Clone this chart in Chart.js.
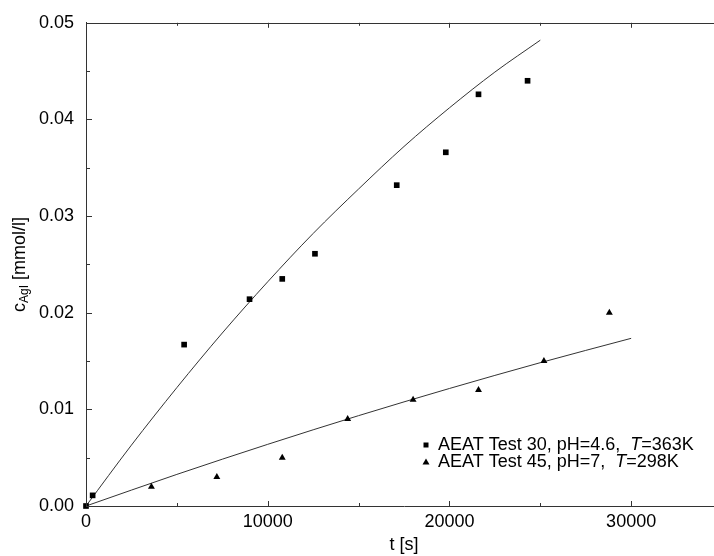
<!DOCTYPE html>
<html>
<head>
<meta charset="utf-8">
<script src="https://cdn.jsdelivr.net/npm/chart.js@4"></script>
<style>
  html, body { margin: 0; padding: 0; background: #fff; overflow: hidden; }
  #wrap { width: 714px; height: 556px; overflow: hidden; }
</style>
</head>
<body>
<div id="wrap"><canvas id="agiChart" width="730" height="556"></canvas></div>
<script>
// measured points
const tTest30 = [0, 365, 5400, 9000, 10800, 12600, 17100, 19800, 21600, 24300];
const cTest30 = [0, 0.0011, 0.0167, 0.0214, 0.0235, 0.0261, 0.0332, 0.0366, 0.0426, 0.0440];
const tTest45 = [3600, 7200, 10800, 14400, 18000, 21600, 25200, 28800];
const cTest45 = [0.002, 0.003, 0.005, 0.009, 0.011, 0.012, 0.015, 0.020];

// model curves
const tModel30 = [0, 2500, 5000, 7500, 10000, 12500, 15000, 17500, 20000, 22500, 25000];
const cModel30 = [0, 0.0063, 0.01225, 0.0179, 0.0232, 0.0282, 0.0328, 0.0372, 0.0412, 0.0449, 0.0482];
const tModel45 = [0, 5000, 10000, 15000, 20000, 25000, 30000];
const cModel45 = [0, 0.00327, 0.00638, 0.00935, 0.01216, 0.01483, 0.01735];

const xTicks = [0, 10000, 20000, 30000];
const yTicks = [0, 0.01, 0.02, 0.03, 0.04, 0.05];

const labels = ['AEAT Test 30, pH=4.6, T=363K', 'AEAT Test 45, pH=7, T=298K'];

const toXY = (xs, ys) => xs.map((x, i) => ({ x: x, y: ys[i] }));
const FONT = '"Liberation Sans", Arial, Helvetica, sans-serif';

// inward ticks, frame, y title, legend
const frameTicks = {
  id: 'frameTicks',
  afterDraw(chart) {
    const ctx = chart.ctx;
    const a = chart.chartArea;
    const xs = chart.scales.x, ys = chart.scales.y;
    ctx.save();
    ctx.strokeStyle = '#333';
    ctx.lineWidth = 1;
    ctx.beginPath();
    ctx.moveTo(a.left, Math.round(a.top) + 0.5);
    ctx.lineTo(a.right, Math.round(a.top) + 0.5);
    ctx.moveTo(Math.round(a.right) + 0.5, a.top);
    ctx.lineTo(Math.round(a.right) + 0.5, a.bottom);
    for (let v = 0; v <= 35000; v += 5000) {
      const px = Math.round(xs.getPixelForValue(v)) + 0.5;
      const len = v % 10000 === 0 ? 5 : 3;
      ctx.moveTo(px, a.bottom); ctx.lineTo(px, a.bottom - len);
      ctx.moveTo(px, a.top); ctx.lineTo(px, a.top + len);
    }
    for (let i = 0; i <= 10; i++) {
      const py = Math.round(ys.getPixelForValue(i * 0.005)) + 0.5;
      const len = i % 2 === 0 ? 6 : 4;
      ctx.moveTo(a.left, py); ctx.lineTo(a.left + len, py);
      ctx.moveTo(a.right, py); ctx.lineTo(a.right - len, py);
    }
    ctx.stroke();

    // y title with subscript
    ctx.fillStyle = '#000';
    ctx.translate(20, (a.top + a.bottom) / 2);
    ctx.rotate(-Math.PI / 2);
    ctx.textBaseline = 'middle';
    const big = '18px ' + FONT, small = '12px ' + FONT;
    ctx.font = big; const w1 = ctx.measureText('c').width;
    ctx.font = small; const w2 = ctx.measureText('AgI').width;
    ctx.font = big; const w3 = ctx.measureText(' [mmol/l]').width;
    let x0 = -(w1 + w2 + w3) / 2;
    ctx.textAlign = 'left';
    ctx.fillText('c', x0, 0);
    ctx.font = small; ctx.fillText('AgI', x0 + w1, 5);
    ctx.font = big; ctx.fillText(' [mmol/l]', x0 + w1 + w2, 0);
    ctx.restore();

    // legend
    ctx.save();
    ctx.fillStyle = '#000';
    ctx.textBaseline = 'middle';
    ctx.textAlign = 'left';
    const rows = [445, 462];
    labels.forEach((lab, i) => {
      const y = rows[i];
      const mx = 426;
      ctx.beginPath();
      if (i === 0) {
        ctx.rect(mx - 2.5, y - 2.5, 5, 5);
      } else {
        ctx.moveTo(mx, y - 3.5); ctx.lineTo(mx + 3.5, y + 2.5); ctx.lineTo(mx - 3.5, y + 2.5); ctx.closePath();
      }
      ctx.fill();
      const k = lab.indexOf('T=');
      const pre = lab.slice(0, k) + ' ', post = lab.slice(k + 1);
      let tx = 438;
      ctx.font = '18px ' + FONT;
      ctx.fillText(pre, tx, y);
      tx += ctx.measureText(pre).width;
      ctx.font = 'italic 18px ' + FONT;
      ctx.fillText('T', tx, y);
      tx += ctx.measureText('T').width;
      ctx.font = '18px ' + FONT;
      ctx.fillText(post, tx, y);
    });
    ctx.restore();
  }
};

new Chart(document.getElementById('agiChart'), {
  type: 'scatter',
  data: {
    datasets: [
      {
        label: labels[0],
        data: toXY(tTest30, cTest30),
        pointStyle: 'rect',
        pointRadius: 4,
        backgroundColor: '#000',
        borderColor: '#000',
        borderWidth: 0,
        clip: false
      },
      {
        label: labels[1],
        data: toXY(tTest45, cTest45),
        pointStyle: 'triangle',
        pointRadius: 4,
        backgroundColor: '#000',
        borderColor: '#000',
        borderWidth: 0,
        clip: false
      },
      {
        label: 'model 30',
        data: toXY(tModel30, cModel30),
        showLine: true,
        pointRadius: 0,
        borderColor: '#333',
        borderWidth: 1,
        cubicInterpolationMode: 'monotone'
      },
      {
        label: 'model 45',
        data: toXY(tModel45, cModel45),
        showLine: true,
        pointRadius: 0,
        borderColor: '#333',
        borderWidth: 1,
        cubicInterpolationMode: 'monotone'
      }
    ]
  },
  options: {
    responsive: false,
    animation: false,
    layout: { padding: { top: 20, right: 8, left: 0, bottom: 0 } },
    plugins: {
      legend: { display: false },
      tooltip: { enabled: false }
    },
    scales: {
      x: {
        type: 'linear',
        min: 0,
        max: 35000,
        afterBuildTicks: s => { s.ticks = xTicks.map(v => ({ value: v })); },
        afterFit: s => { s.height = 50; },
        grid: { display: false, drawTicks: false, tickLength: 0 },
        border: { display: true, color: '#333', width: 1 },
        ticks: {
          color: '#000',
          padding: 5,
          maxRotation: 0,
          font: { family: FONT, size: 18 },
          callback: v => String(v)
        },
        title: {
          display: true,
          text: 't [s]',
          color: '#000',
          padding: { top: 0, bottom: 0 },
          font: { family: FONT, size: 18 }
        }
      },
      y: {
        min: 0,
        max: 0.05,
        afterBuildTicks: s => { s.ticks = yTicks.map(v => ({ value: v })); },
        afterFit: s => { s.width = 86; },
        grid: { display: false, drawTicks: false, tickLength: 0 },
        border: { display: true, color: '#333', width: 1 },
        ticks: {
          color: '#000',
          padding: 12,
          font: { family: FONT, size: 18 },
          callback: v => v.toFixed(2)
        }
      }
    }
  },
  plugins: [frameTicks]
});
</script>
</body>
</html>
